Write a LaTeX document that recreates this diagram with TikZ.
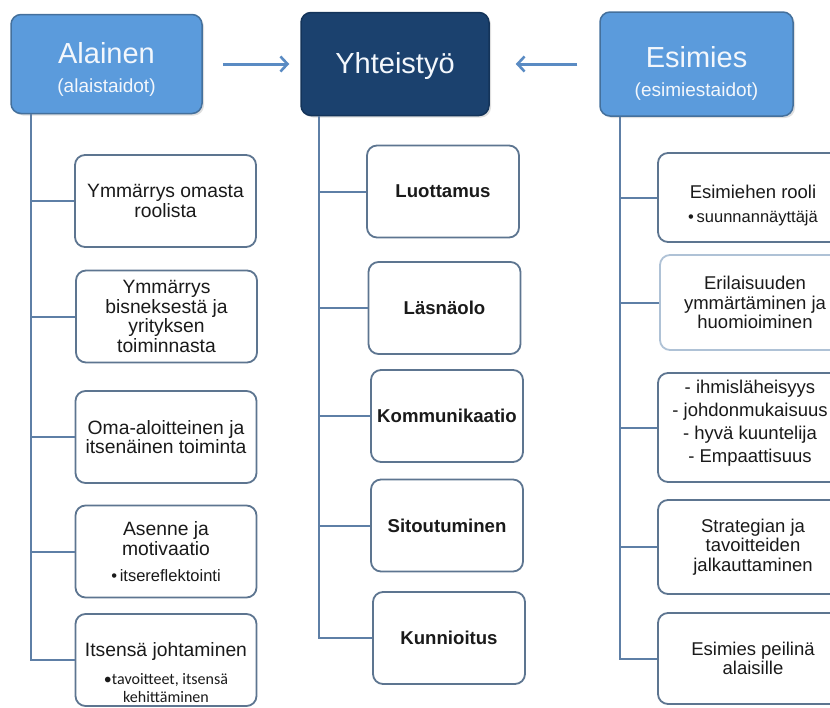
\documentclass[tikz,border=0pt]{standalone}
\usepackage{fontspec}
\setmainfont{Liberation Sans}
\newfontfamily\carlitofont{Carlito}
\usetikzlibrary{arrows.meta,shadows}

\definecolor{headlight}{HTML}{5B9BDC}
\definecolor{headlightedge}{HTML}{44709C}
\definecolor{headdark}{HTML}{1B416E}
\definecolor{headdarkedge}{HTML}{14345A}
\definecolor{headtext}{HTML}{F3F7FC}
\definecolor{slate}{HTML}{5D7590}
\definecolor{paleslate}{HTML}{AFC2D6}
\definecolor{connblue}{HTML}{5E7FA6}
\definecolor{arrowblue}{HTML}{5A8BC3}
\definecolor{ink}{HTML}{1A1A1A}

\begin{document}
\begin{tikzpicture}[x=1pt,y=-1pt,
  conn/.style={draw=connblue, line width=2pt},
  flow/.style={draw=arrowblue, line width=3pt,
    -{Straight Barb[length=7pt,width=15pt,line width=2.6pt]}},
  headbox/.style={rounded corners=10pt, line width=1.5pt,
    drop shadow={shadow xshift=2pt, shadow yshift=-2pt, opacity=0.25}},
  lighthead/.style={headbox, fill=headlight, draw=headlightedge},
  darkhead/.style={headbox, fill=headdark, draw=headdarkedge},
  headtitle/.style={text=headtext, font=\fontsize{29}{31}\selectfont, inner sep=0pt},
  headsub/.style={text=headtext, font=\fontsize{19}{21}\selectfont, inner sep=0pt},
  item/.style={draw=slate, line width=1.8pt, rounded corners=10pt, fill=white,
    align=center, text=ink, font=\fontsize{19.3}{19.8}\selectfont, inner sep=2pt},
  itemtext/.style={text=ink, align=center, inner sep=0pt, font=\fontsize{19.3}{19.8}\selectfont},
  leftitem/.style={item, minimum width=181pt, minimum height=92pt},
  miditem/.style={item, minimum width=152pt, minimum height=92pt,
    font=\fontsize{18.6}{20}\selectfont\bfseries},
  rightitem/.style={item, minimum width=190pt, font=\fontsize{18.5}{19.6}\selectfont},
]
\useasboundingbox (0,0) rectangle (830,707);
\clip (0,0) rectangle (830,707);

% header boxes
\node[lighthead, minimum width=191pt, minimum height=99pt] (alainen) at (106.5,64) {};
\node[headtitle] (alainenT) at (106.5,53) {Alainen};
\node[headsub] (alainenS) at (106.5,88) {(alaistaidot)};

\node[darkhead, minimum width=188pt, minimum height=103pt] (yht) at (395,64) {};
\node[headtitle] (yhtT) at (395,66) {Yhteistyö};

\node[lighthead, minimum width=193pt, minimum height=104pt] (esimies) at (696.5,64) {};
\node[headtitle] (esimiesT) at (696.5,57) {Esimies};
\node[headsub] (esimiesS) at (696.5,92) {(esimiestaidot)};

% arrows towards the middle box
\draw[flow, shorten <=20pt, shorten >=11pt] (alainen.east) -- (yht.west);
\draw[flow, shorten <=22pt, shorten >=26pt] (esimies.west) -- (yht.east);

% left column
\node[leftitem] (l1) at (165.5,201) {Ymmärrys omasta\\roolista};
\node[leftitem] (l2) at (166.5,316.5) {Ymmärrys\\bisneksestä ja\\yrityksen\\toiminnasta};
\node[leftitem] (l3) at (166,437) {Oma-aloitteinen ja\\itsenäinen toiminta};
\node[leftitem] (l4) at (166,551.5) {Asenne ja\\motivaatio\\[6pt]{\fontsize{16.5}{18}\selectfont •\,itsereflektointi}};
\node[leftitem] (l5) at (166,660) {};
\node[itemtext] (l5a) at (166,652) {Itsensä johtaminen};
\node[itemtext, font=\fontsize{16}{18}\carlitofont] (l5b) at (166,688) {•tavoitteet, itsensä\\kehittäminen};

\coordinate (tl) at (31,0);
\draw[conn] (alainen.south -| tl) |- (l5.west);
\foreach \n in {l1,l2,l3,l4} \draw[conn] (\n.west) -- (\n.west -| tl);

% middle column
\node[miditem] (m1) at (443,191.5) {Luottamus};
\node[miditem] (m2) at (444.5,308) {Läsnäolo};
\node[miditem] (m3) at (447,416) {Kommunikaatio};
\node[miditem] (m4) at (447,525.5) {Sitoutuminen};
\node[miditem] (m5) at (449,638) {Kunnioitus};

\coordinate (tm) at (319,0);
\draw[conn] (yht.south -| tm) |- (m5.west);
\foreach \n in {m1,m2,m3,m4} \draw[conn] (\n.west) -- (\n.west -| tm);

% right column
\node[rightitem, minimum height=89pt] (r1) at (753,197.5) {};
\node[itemtext, font=\fontsize{18.5}{19.6}\selectfont] (r1a) at (753,192) {Esimiehen rooli};
\node[itemtext, font=\fontsize{16.5}{18}\selectfont] (r1b) at (753,218) {•\,suunnannäyttäjä};
\node[rightitem, minimum height=95pt, draw=paleslate] (r2) at (755,302.5) {Erilaisuuden\\ymmärtäminen ja\\huomioiminen};
\node[rightitem, minimum height=109pt] (r3) at (753,427.5) {};
\node[itemtext, font=\fontsize{18.5}{23}\selectfont] (r3t) at (750,423) {- ihmisläheisyys\\- johdonmukaisuus\\- hyvä kuuntelija\\- Empaattisuus};
\node[rightitem, minimum height=94pt] (r4) at (753,547) {Strategian ja\\tavoitteiden\\jalkauttaminen};
\node[rightitem, minimum height=91pt] (r5) at (753,658.5) {Esimies peilinä\\alaisille};

\coordinate (tr) at (620,0);
\draw[conn] (esimies.south -| tr) |- (r5.west);
\foreach \n in {r1,r2,r3,r4} \draw[conn] (\n.west) -- (\n.west -| tr);
\end{tikzpicture}
\end{document}
